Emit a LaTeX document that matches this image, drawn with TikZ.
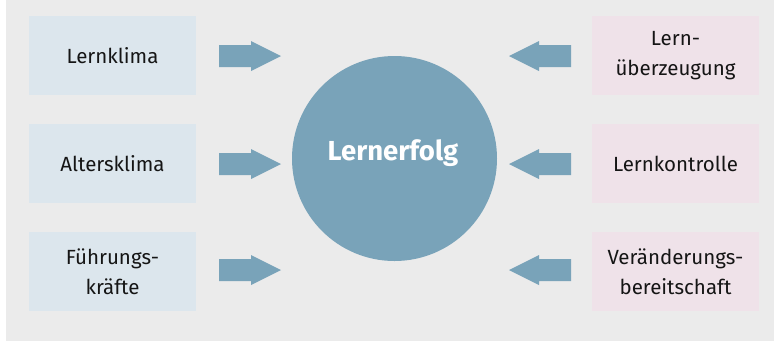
\documentclass[tikz,border=0pt]{standalone}
\usepackage{fontspec}
\setmainfont{Fira Sans}
\definecolor{bggray}{HTML}{EBEBEB}
\definecolor{lbox}{HTML}{DCE6ED}
\definecolor{rbox}{HTML}{EFE2E9}
\definecolor{accent}{HTML}{79A3B9}
\definecolor{txt}{HTML}{151515}
\tikzset{
  factor/.style={minimum width=167pt, minimum height=79pt, inner sep=0pt, align=center,
    font=\fontsize{20.5}{30}\selectfont, text=txt},
  leftfactor/.style={factor, fill=lbox},
  rightfactor/.style={factor, fill=rbox},
  arrowshape/.style={fill=accent, draw=none}
}
\begin{document}
\begin{tikzpicture}[x=1pt,y=-1pt]
\useasboundingbox (0,0) rectangle (774,341);
\fill[bggray] (6,0) rectangle (774,341);
% left boxes
\node[leftfactor] (lk) at (112.5,55.5) {Lernklima};
\node[leftfactor] (ak) at (112.5,163.5) {Altersklima};
\node[leftfactor] (fk) at (112.5,271.5) {Führungs-\\kräfte};
% right boxes
\node[rightfactor] (lu) at (675.5,55.5) {Lern-\\überzeugung};
\node[rightfactor] (lko) at (675.5,163.5) {Lernkontrolle};
\node[rightfactor] (vb) at (675.5,271.5) {Veränderungs-\\bereitschaft};
% circle
\node[circle, fill=accent, minimum size=205pt, inner sep=0pt] (le) at (394.5,158.5) {};
\node[text=white, font=\fontsize{27.5}{30}\selectfont\bfseries] (let) at (393,153) {Lernerfolg};
% arrows
\foreach \y/\n in {56/a1,164/a2,270/a3}{
  \fill[arrowshape] (219,\y-11) -- (251,\y-11) -- (251,\y-15) -- (281,\y) -- (251,\y+15) -- (251,\y+11) -- (219,\y+11) -- cycle;
  \fill[arrowshape] (571,\y-11) -- (539,\y-11) -- (539,\y-15) -- (509,\y) -- (539,\y+15) -- (539,\y+11) -- (571,\y+11) -- cycle;
}
\end{tikzpicture}
\end{document}
